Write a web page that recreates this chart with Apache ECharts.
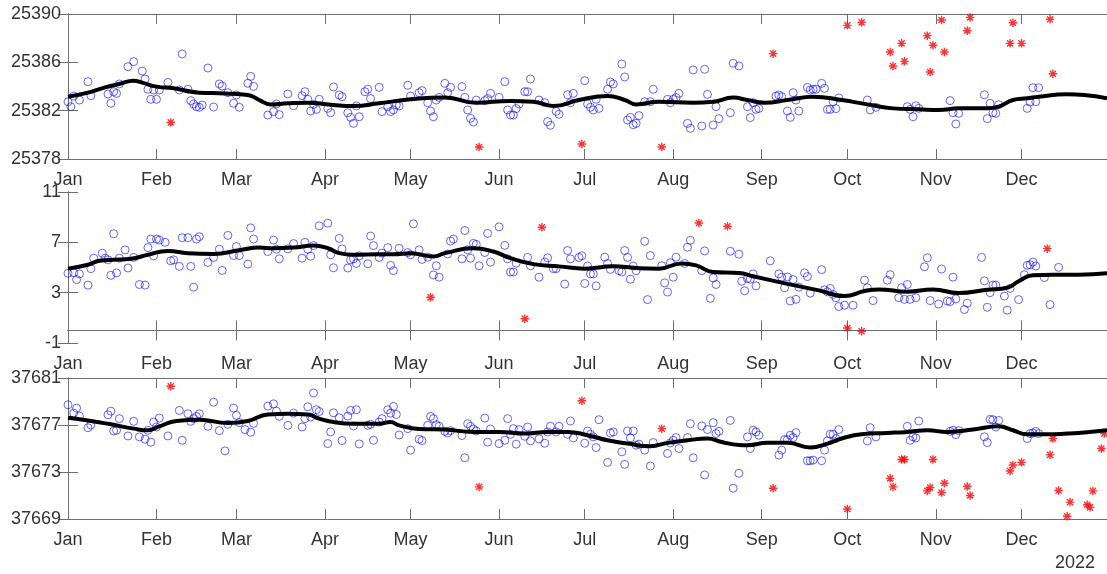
<!DOCTYPE html>
<html><head><meta charset="utf-8">
<script src="https://cdn.jsdelivr.net/npm/echarts@6/dist/echarts.min.js"></script>
<style>html,body{margin:0;padding:0;background:#fff}#c{width:1107px;height:574px}</style>
</head><body><div id="c"></div>
<script>
// ---------- data ----------
const MONTH_LABELS = ['Jan','Feb','Mar','Apr','May','Jun','Jul','Aug','Sep','Oct','Nov','Dec'];
const MONTH_STARTS = [0,31,59,90,120,151,181,212,243,273,304,334]; // day of year 2022 (0 = Jan 1)
const YEAR_LABEL = '2022';
const P1_TICKS = [25378,25382,25386,25390];
const P2_TICKS = [-1,3,7,11];
const P3_TICKS = [37669,37673,37677,37681];

// Panel 1
const P1_DAY = [0,1,2,4,7,8,14,15,16,17,18,21,23,26,27,28,29,30,31,32,35,39,40,42,43,44,45,46,47,49,51,53,54,56,58,59,60,63,64,65,70,72,73,74,77,79,82,83,84,85,86,87,88,91,92,93,95,96,98,99,100,101,102,104,105,106,109,110,112,113,114,115,116,119,120,123,124,126,127,128,129,130,132,133,134,138,139,140,141,142,143,146,147,148,151,153,154,155,156,157,158,160,161,162,165,167,168,169,171,172,175,176,177,181,182,183,184,185,186,189,190,191,194,195,196,197,198,199,200,202,204,205,210,211,212,213,214,217,218,219,222,223,224,226,227,228,232,233,235,238,239,240,241,242,248,249,250,252,253,254,255,256,259,260,261,262,264,265,266,267,268,269,270,280,281,283,294,295,296,297,298,309,310,311,312,321,322,323,324,325,326,336,337,338,339,340];
const P1_VAL = [25382.74,25382.33,25383.21,25382.88,25384.40,25383.24,25383.38,25382.61,25383.57,25383.43,25384.21,25385.64,25386.06,25385.28,25384.62,25383.77,25382.94,25383.71,25382.94,25383.71,25384.34,25383.71,25386.69,25383.77,25382.83,25382.55,25382.33,25382.28,25382.47,25385.53,25382.30,25384.21,25384.04,25383.49,25382.61,25383.30,25382.28,25384.26,25384.84,25384.01,25381.64,25381.92,25382.55,25381.67,25383.38,25382.41,25383.24,25383.57,25382.94,25381.97,25382.52,25382.11,25382.94,25382.19,25381.83,25383.96,25383.30,25383.16,25381.83,25381.45,25380.95,25382.39,25381.50,25383.57,25383.77,25383.00,25383.93,25381.92,25382.33,25381.92,25382.06,25382.47,25382.39,25384.10,25383.21,25383.49,25383.66,25382.66,25381.97,25381.50,25382.88,25383.10,25384.26,25383.49,25383.93,25383.99,25383.10,25382.06,25381.37,25381.06,25382.88,25382.83,25383.00,25383.43,25383.10,25384.40,25382.06,25381.64,25381.64,25382.17,25382.55,25383.57,25383.57,25384.62,25382.88,25382.66,25381.09,25380.79,25381.94,25381.70,25383.32,25382.66,25383.43,25384.48,25382.55,25382.28,25382.06,25382.94,25382.19,25383.77,25384.37,25384.21,25385.86,25384.79,25381.23,25381.45,25380.84,25380.95,25381.59,25382.74,25382.74,25383.77,25382.94,25382.66,25382.94,25383.08,25383.43,25380.95,25380.54,25385.37,25380.73,25385.42,25383.35,25380.81,25382.33,25381.34,25381.83,25385.92,25385.70,25382.33,25381.42,25382.66,25382.11,25382.19,25383.21,25383.30,25383.16,25381.97,25381.45,25383.49,25382.88,25381.97,25383.93,25383.71,25383.77,25383.77,25384.26,25383.85,25382.11,25382.11,25382.74,25382.17,25383.05,25382.88,25382.06,25382.28,25382.33,25382.11,25381.50,25382.41,25382.19,25382.83,25381.83,25380.90,25381.78,25383.32,25381.34,25382.61,25381.83,25381.78,25382.50,25382.19,25382.72,25383.90,25382.74,25383.90];
const P1_OUT_DAY = [36,144,180,208,247,273,278,288,289,292,293,301,302,303,306,307,315,316,330,331,334,344,345];
const P1_OUT_VAL = [25381.03,25378.99,25379.24,25378.99,25386.72,25389.06,25389.31,25386.86,25385.70,25387.57,25386.08,25388.21,25385.20,25387.41,25389.50,25386.86,25388.62,25389.72,25387.57,25389.28,25387.57,25389.56,25385.06];
const P1_FIT_DAY = [0,7,13,18,23,26,31,37,46,55,63,67,71,77,84,93,100,109,120,132,143,155,163,170,179,189,195,199,207,219,226,233,238,244,252,261,271,280,289,298,305,312,322,326,331,336,340,350,356,364];
const P1_FIT_VAL = [25383.16,25383.49,25383.93,25384.21,25384.48,25384.32,25383.99,25383.85,25383.49,25383.43,25383.30,25382.88,25382.52,25382.61,25382.66,25382.47,25382.39,25382.61,25382.94,25383.10,25382.66,25382.80,25382.74,25382.39,25382.88,25383.21,25382.88,25382.52,25382.74,25382.66,25382.74,25383.08,25382.88,25382.66,25382.88,25383.16,25382.88,25382.52,25382.19,25382.11,25382.06,25382.19,25382.19,25382.33,25382.88,25383.02,25383.16,25383.35,25383.30,25383.02];

// Panel 2
const P2_DAY = [0,2,3,4,7,8,9,12,13,14,15,16,17,18,20,21,23,25,27,28,29,30,31,32,34,36,37,39,40,42,43,44,45,46,49,51,53,54,56,58,59,60,63,64,65,70,72,73,74,77,79,82,83,84,85,86,88,91,92,93,95,96,98,99,100,101,102,105,106,107,109,110,112,113,114,116,119,120,121,123,124,126,128,129,130,133,134,135,138,139,140,141,142,143,144,146,147,148,151,153,154,155,156,157,161,162,165,167,168,170,171,174,175,176,179,180,181,182,183,184,185,188,189,190,193,194,195,196,197,198,199,202,203,204,208,209,210,211,212,213,216,217,218,222,223,225,226,227,232,235,236,237,238,239,240,241,246,249,250,251,252,253,254,255,256,258,259,260,264,265,266,267,268,269,270,272,275,279,280,282,287,288,291,292,293,294,295,297,300,301,302,305,306,308,309,310,311,314,315,320,321,322,323,324,325,328,329,330,333,335,336,337,338,339,342,344,347];
const P2_VAL = [4.54,4.59,4.04,4.49,3.60,4.91,5.74,6.14,5.74,5.61,4.38,7.68,4.57,5.74,6.40,4.96,5.80,3.65,3.60,6.58,7.26,5.93,7.26,7.18,7.00,5.53,5.61,5.09,7.37,7.37,5.09,3.44,7.26,7.45,5.40,5.80,6.45,4.77,7.55,5.95,6.66,5.95,5.27,8.15,7.26,6.27,7.18,6.45,5.69,6.48,6.90,5.74,7.00,6.45,5.90,6.74,8.31,8.52,6.01,4.98,7.31,6.48,4.96,5.61,5.69,5.32,5.93,5.30,7.50,6.74,5.80,6.14,6.58,5.17,4.75,6.53,6.19,6.01,8.47,6.40,5.64,5.82,4.41,5.14,4.23,6.08,7.10,7.26,5.69,7.94,6.40,5.74,6.92,6.84,5.14,6.19,7.71,5.43,8.23,6.76,5.69,4.64,4.64,5.35,5.80,5.14,4.23,5.43,5.77,4.91,4.91,3.68,6.35,5.69,5.80,5.93,3.73,5.12,4.49,4.49,3.54,5.82,5.32,4.85,4.75,4.64,6.35,5.80,4.07,5.12,4.75,7.08,2.45,5.95,5.14,3.78,3.05,5.38,4.23,5.82,5.32,6.61,7.16,4.75,6.32,2.55,4.17,3.65,6.29,6.06,3.91,3.15,4.12,4.07,4.49,3.54,5.53,4.49,4.23,3.39,4.25,2.34,4.04,2.47,3.44,4.57,4.28,2.97,4.83,3.23,3.07,3.34,2.86,2.60,1.90,2.00,2.00,3.99,3.39,2.37,3.99,4.43,2.60,3.39,2.47,3.65,2.47,2.60,5.06,5.77,2.37,2.10,4.88,2.34,2.29,4.23,2.50,1.66,2.16,5.80,3.94,1.84,3.00,3.60,3.60,2.73,1.61,3.34,2.45,4.43,5.17,5.22,5.43,5.12,4.20,2.05,5.01];
const P2_OUT_DAY = [127,160,166,221,231,273,278,343];
const P2_OUT_VAL = [2.63,0.93,8.20,8.54,8.28,0.19,-0.07,6.50];
const P2_FIT_DAY = [0,7,11,16,22,28,35,42,51,60,67,72,79,86,91,95,100,109,114,120,128,132,142,149,155,163,172,181,191,199,207,215,220,226,235,240,252,263,272,279,284,294,303,312,322,329,333,338,345,354,364];
const P2_FIT_VAL = [4.91,5.22,5.53,5.61,5.69,6.01,6.32,6.14,6.08,6.37,6.58,6.53,6.58,6.74,6.53,6.14,6.01,6.06,6.06,6.14,5.87,6.14,6.53,6.27,5.74,5.27,5.09,4.91,5.09,4.96,4.91,5.32,5.17,4.64,4.56,4.30,3.70,3.18,2.73,3.13,3.26,3.07,3.26,2.97,3.23,3.39,3.91,4.38,4.43,4.43,4.54];

// Panel 3
const P3_DAY = [0,2,3,4,7,8,14,15,16,17,18,21,23,25,27,28,29,30,31,32,35,39,40,42,43,44,45,46,49,51,53,55,56,58,59,60,62,64,65,70,72,73,74,77,79,82,83,84,85,86,87,88,91,92,93,95,96,98,99,100,101,102,105,106,107,109,110,112,113,114,115,116,119,120,123,124,126,127,128,129,130,132,133,134,138,139,140,141,142,143,146,147,148,151,153,154,155,156,157,158,160,161,162,165,167,168,169,171,172,175,176,177,181,182,183,184,185,186,189,190,191,194,195,196,197,198,199,200,202,204,205,210,211,212,213,214,217,218,219,222,223,224,226,227,228,232,233,235,238,239,240,241,242,249,250,251,252,253,254,255,259,260,261,264,265,266,267,268,269,270,280,281,283,294,295,296,297,298,309,310,311,312,321,322,323,324,325,326,336,337,338,339,340];
const P3_VAL = [37678.72,37678.01,37678.44,37677.76,37676.77,37677.00,37677.87,37678.18,37676.49,37676.55,37677.54,37676.07,37677.31,37675.99,37675.79,37676.55,37675.54,37677.25,37676.83,37677.59,37676.07,37678.24,37675.70,37677.96,37677.31,37677.54,37677.73,37677.96,37676.89,37678.94,37676.52,37674.80,37677.06,37678.44,37677.82,37677.20,37676.61,37676.38,37677.14,37678.61,37678.80,37678.18,37677.73,37676.97,37678.01,37676.83,37677.54,37678.55,37677.68,37679.73,37678.30,37678.15,37675.42,37676.41,37678.04,37677.62,37675.68,37677.76,37678.24,37676.92,37678.30,37675.39,37676.97,37677.06,37675.70,37677.25,37677.54,37678.30,37678.01,37678.58,37677.90,37676.15,37676.69,37674.86,37675.79,37675.68,37676.97,37677.73,37677.54,37677.03,37676.89,37676.46,37676.32,37676.52,37676.10,37674.21,37677.11,37676.89,37676.66,37676.49,37677.59,37675.54,37676.66,37675.42,37675.70,37677.54,37676.21,37676.69,37675.37,37676.61,37676.04,37676.83,37675.65,37675.82,37675.45,37676.41,37676.89,37676.41,37676.89,37676.21,37677.34,37675.90,37675.45,37676.49,37676.21,37675.99,37675.08,37677.45,37673.82,37676.32,37676.41,37674.72,37673.65,37676.49,37675.90,37676.49,37675.28,37675.37,37674.86,37673.51,37675.51,37674.58,37675.48,37675.70,37675.93,37675.00,37675.93,37677.11,37674.21,37676.92,37672.75,37676.61,37677.20,37676.27,37676.46,37677.39,37671.62,37672.89,37675.99,37675.00,37676.55,37676.41,37676.13,37674.44,37674.86,37675.76,37675.76,37676.13,37675.93,37676.35,37673.96,37673.96,37674.01,37673.96,37674.86,37675.65,37676.21,37676.21,37675.85,37676.61,37675.65,37676.77,37675.99,37676.89,37675.70,37675.99,37675.90,37677.34,37676.46,37676.55,37676.18,37676.52,37675.99,37675.51,37677.48,37677.45,37676.83,37677.39,37675.85,37676.27,37676.32,37676.46,37676.27];
const P3_OUT_DAY = [36,144,180,208,247,273,288,289,292,293,301,302,303,306,307,315,316,330,331,334,344,345,347,350,351,357,358,359,362,363];
const P3_OUT_VAL = [37680.30,37671.73,37679.06,37676.69,37671.62,37669.85,37672.46,37671.73,37674.07,37674.07,37671.39,37671.68,37674.07,37671.25,37672.04,37671.76,37671.00,37673.08,37673.59,37673.82,37674.46,37675.85,37671.42,37669.23,37670.44,37670.21,37669.99,37671.39,37675.00,37676.27];
const P3_FIT_DAY = [0,7,15,23,28,32,38,46,56,63,70,77,84,88,93,100,109,113,116,123,132,142,151,160,168,175,182,189,196,204,210,217,224,229,235,238,245,252,260,266,271,278,287,294,301,308,317,326,331,336,343,350,357,364];
const P3_FIT_VAL = [37677.62,37677.39,37677.06,37676.69,37676.55,37676.89,37677.34,37677.45,37677.17,37677.34,37677.90,37677.96,37677.90,37677.54,37677.25,37677.11,37677.11,37677.25,37676.97,37676.66,37676.61,37676.41,37676.41,37676.27,37676.41,37676.41,37676.13,37675.70,37675.42,37675.20,37675.48,37675.70,37675.85,37675.56,37675.30,37675.28,37675.48,37675.48,37675.08,37675.42,37675.85,37676.21,37676.32,37676.41,37676.55,37676.41,37676.61,37676.89,37676.55,37676.21,37676.21,37676.27,37676.38,37676.55];

// ---------- chart ----------
const zip = (a, b) => a.map((d, i) => [d, b[i]]);
const panels = [
  {ticks: P1_TICKS, day: P1_DAY, val: P1_VAL, oday: P1_OUT_DAY, oval: P1_OUT_VAL, fday: P1_FIT_DAY, fval: P1_FIT_VAL},
  {ticks: P2_TICKS, day: P2_DAY, val: P2_VAL, oday: P2_OUT_DAY, oval: P2_OUT_VAL, fday: P2_FIT_DAY, fval: P2_FIT_VAL},
  {ticks: P3_TICKS, day: P3_DAY, val: P3_VAL, oday: P3_OUT_DAY, oval: P3_OUT_VAL, fday: P3_FIT_DAY, fval: P3_FIT_VAL}
];
const layout = [{top: 14, height: 145}, {top: 192, height: 151}, {top: 378, height: 141}];
const FONT = '"Liberation Sans", Arial, Helvetica, sans-serif';
const AX = '#333333';
const LINE_C = '#6e6e6e';
const axLine = {show: true, lineStyle: {color: LINE_C, width: 1}};
const ASTER = 'path://M0,-1L0,1M-1,0L1,0M-0.72,-0.72L0.72,0.72M-0.72,0.72L0.72,-0.72';

const grid = [], xAxis = [], yAxis = [], series = [];
panels.forEach((p, i) => {
  grid.push({left: 68, width: 1042, top: layout[i].top, height: layout[i].height, containLabel: false, outerBoundsMode: 'none'});
  ['bottom', 'top'].forEach(pos => {
    xAxis.push({
      gridIndex: i, type: 'value', position: pos, min: 0, max: 365,
      axisLine: axLine,
      axisTick: {show: true, inside: true, length: 10, customValues: MONTH_STARTS, lineStyle: {color: LINE_C, width: 1}},
      axisLabel: pos === 'bottom' ? {
        show: true, customValues: MONTH_STARTS, margin: 12,
        formatter: v => MONTH_LABELS[MONTH_STARTS.indexOf(v)] || '',
        color: AX, fontSize: 18, fontFamily: FONT
      } : {show: false},
      splitLine: {show: false}
    });
  });
  ['left', 'right'].forEach(pos => {
    yAxis.push({
      gridIndex: i, type: 'value', position: pos,
      min: p.ticks[0], max: p.ticks[p.ticks.length - 1],
      axisLine: axLine,
      axisTick: {show: true, inside: true, length: 10, customValues: p.ticks, lineStyle: {color: LINE_C, width: 1}},
      axisLabel: pos === 'left' ? {
        show: true, customValues: p.ticks, margin: 7,
        formatter: v => String(v), color: AX, fontSize: 18, fontFamily: FONT
      } : {show: false},
      splitLine: {show: false}
    });
  });
});
panels.forEach((p, i) => {
  series.push({
    type: 'scatter', xAxisIndex: 2 * i, yAxisIndex: 2 * i, data: zip(p.day, p.val),
    symbol: 'circle', symbolSize: 8,
    itemStyle: {color: 'rgba(0,0,0,0)', borderColor: 'rgba(0,0,255,0.75)', borderWidth: 1},
    silent: true, z: 2
  });
  series.push({
    type: 'scatter', xAxisIndex: 2 * i, yAxisIndex: 2 * i, data: zip(p.oday, p.oval),
    symbol: ASTER, symbolSize: 8.5,
    itemStyle: {color: 'rgba(0,0,0,0)', borderColor: '#ff0000', borderWidth: 1.4},
    silent: true, z: 3
  });
  series.push({
    type: 'line', xAxisIndex: 2 * i, yAxisIndex: 2 * i, data: zip(p.fday, p.fval),
    smooth: 0.5, showSymbol: false, symbol: 'none',
    lineStyle: {color: '#000', width: 4}, silent: true, z: 4
  });
});

const chart = echarts.init(document.getElementById('c'), null, {renderer: 'canvas'});
chart.setOption({
  animation: false,
  backgroundColor: '#fff',
  grid, xAxis, yAxis, series,
  graphic: [{
    type: 'text', right: 12, top: 554,
    style: {text: YEAR_LABEL, fill: AX, fontSize: 18, fontFamily: FONT}
  }]
});
</script>
</body></html>
